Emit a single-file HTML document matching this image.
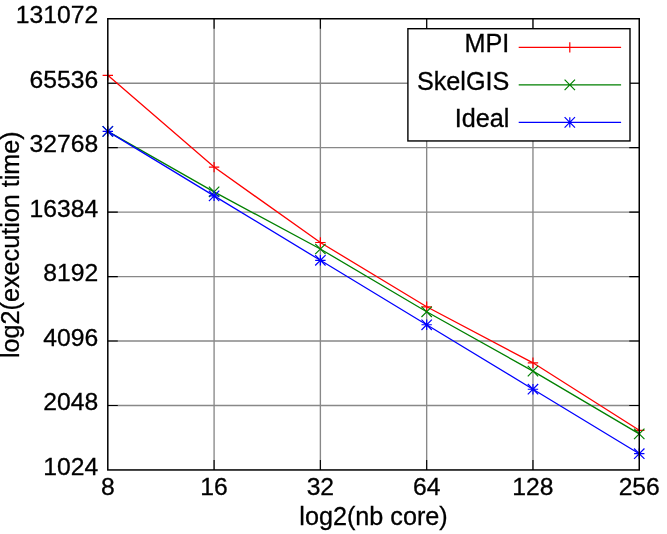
<!DOCTYPE html>
<html><head><meta charset="utf-8"><title>chart</title>
<style>html,body{margin:0;padding:0;background:#fff;}svg{display:block;will-change:transform;}text{font-family:"Liberation Sans",sans-serif;fill:#000;stroke:#000;stroke-width:0.3px;}</style></head><body>
<svg width="667" height="534" viewBox="0 0 667 534">
<rect x="0" y="0" width="667" height="534" fill="#fff"/>
<path d="M214.09 18.75V469.95M320.38 18.75V469.95M426.67 18.75V469.95M532.96 18.75V469.95M107.80 83.21H639.25M107.80 147.66H639.25M107.80 212.12H639.25M107.80 276.58H639.25M107.80 341.04H639.25M107.80 405.49H639.25" stroke="#888888" stroke-width="1.35" fill="none"/>
<path d="M214.09 469.95v-10M214.09 18.75v10M320.38 469.95v-10M320.38 18.75v10M426.67 469.95v-10M426.67 18.75v10M532.96 469.95v-10M532.96 18.75v10M107.80 83.21h10M639.25 83.21h-10M107.80 147.66h10M639.25 147.66h-10M107.80 212.12h10M639.25 212.12h-10M107.80 276.58h10M639.25 276.58h-10M107.80 341.04h10M639.25 341.04h-10M107.80 405.49h10M639.25 405.49h-10" stroke="#000" stroke-width="1.1" fill="none"/>
<text x="98.2" y="23.35" font-size="24.7" text-anchor="end">131072</text>
<text x="98.2" y="87.81" font-size="24.7" text-anchor="end">65536</text>
<text x="98.2" y="152.26" font-size="24.7" text-anchor="end">32768</text>
<text x="98.2" y="216.72" font-size="24.7" text-anchor="end">16384</text>
<text x="98.2" y="281.18" font-size="24.7" text-anchor="end">8192</text>
<text x="98.2" y="345.64" font-size="24.7" text-anchor="end">4096</text>
<text x="98.2" y="410.09" font-size="24.7" text-anchor="end">2048</text>
<text x="98.2" y="474.55" font-size="24.7" text-anchor="end">1024</text>
<text x="107.80" y="494.6" font-size="24.7" text-anchor="middle">8</text>
<text x="214.09" y="494.6" font-size="24.7" text-anchor="middle">16</text>
<text x="320.38" y="494.6" font-size="24.7" text-anchor="middle">32</text>
<text x="426.67" y="494.6" font-size="24.7" text-anchor="middle">64</text>
<text x="532.96" y="494.6" font-size="24.7" text-anchor="middle">128</text>
<text x="639.25" y="494.6" font-size="24.7" text-anchor="middle">256</text>
<text x="373.52" y="525.1" font-size="25.2" text-anchor="middle">log2(nb core)</text>
<text transform="translate(19.4 244.65) rotate(-90)" font-size="25.2" text-anchor="middle">log2(execution time)</text>
<polyline points="107.80,75.30 214.09,167.10 320.38,242.50 426.67,306.80 532.96,362.80 639.25,430.30" fill="none" stroke="#ff0000" stroke-width="1.3"/>
<path d="M102.60 75.30h10.4M107.80 70.10v10.4M208.89 167.10h10.4M214.09 161.90v10.4M315.18 242.50h10.4M320.38 237.30v10.4M421.47 306.80h10.4M426.67 301.60v10.4M527.76 362.80h10.4M532.96 357.60v10.4M634.05 430.30h10.4M639.25 425.10v10.4" fill="none" stroke="#ff0000" stroke-width="1.2"/>
<polyline points="107.80,131.40 214.09,191.90 320.38,249.00 426.67,311.80 532.96,371.10 639.25,433.90" fill="none" stroke="#008000" stroke-width="1.3"/>
<path d="M102.60 126.20l10.4 10.4M102.60 136.60l10.4 -10.4M208.89 186.70l10.4 10.4M208.89 197.10l10.4 -10.4M315.18 243.80l10.4 10.4M315.18 254.20l10.4 -10.4M421.47 306.60l10.4 10.4M421.47 317.00l10.4 -10.4M527.76 365.90l10.4 10.4M527.76 376.30l10.4 -10.4M634.05 428.70l10.4 10.4M634.05 439.10l10.4 -10.4" fill="none" stroke="#008000" stroke-width="1.2"/>
<polyline points="107.80,131.40 214.09,195.86 320.38,260.31 426.67,324.77 532.96,389.23 639.25,453.69" fill="none" stroke="#0000ff" stroke-width="1.3"/>
<path d="M102.60 131.40h10.4M107.80 126.20v10.4M102.60 126.20l10.4 10.4M102.60 136.60l10.4 -10.4M208.89 195.86h10.4M214.09 190.66v10.4M208.89 190.66l10.4 10.4M208.89 201.06l10.4 -10.4M315.18 260.31h10.4M320.38 255.11v10.4M315.18 255.11l10.4 10.4M315.18 265.51l10.4 -10.4M421.47 324.77h10.4M426.67 319.57v10.4M421.47 319.57l10.4 10.4M421.47 329.97l10.4 -10.4M527.76 389.23h10.4M532.96 384.03v10.4M527.76 384.03l10.4 10.4M527.76 394.43l10.4 -10.4M634.05 453.69h10.4M639.25 448.49v10.4M634.05 448.49l10.4 10.4M634.05 458.89l10.4 -10.4" fill="none" stroke="#0000ff" stroke-width="1.2"/>
<rect x="407.9" y="28.7" width="222.10" height="112.25" fill="#fff" stroke="#000" stroke-width="1.4"/>
<text x="509.3" y="52.30" font-size="25.2" text-anchor="end">MPI</text>
<path d="M518.7 47.4H621.1M564.60 47.40h10.4M569.80 42.20v10.4" fill="none" stroke="#ff0000" stroke-width="1.2"/>
<text x="509.3" y="89.80" font-size="25.2" text-anchor="end">SkelGIS</text>
<path d="M518.7 84.9H621.1M564.60 79.70l10.4 10.4M564.60 90.10l10.4 -10.4" fill="none" stroke="#008000" stroke-width="1.2"/>
<text x="509.3" y="127.30" font-size="25.2" text-anchor="end">Ideal</text>
<path d="M518.7 122.4H621.1M564.60 122.40h10.4M569.80 117.20v10.4M564.60 117.20l10.4 10.4M564.60 127.60l10.4 -10.4" fill="none" stroke="#0000ff" stroke-width="1.2"/>
<rect x="107.8" y="18.75" width="531.45" height="451.20" fill="none" stroke="#000" stroke-width="1.5"/>
</svg></body></html>
